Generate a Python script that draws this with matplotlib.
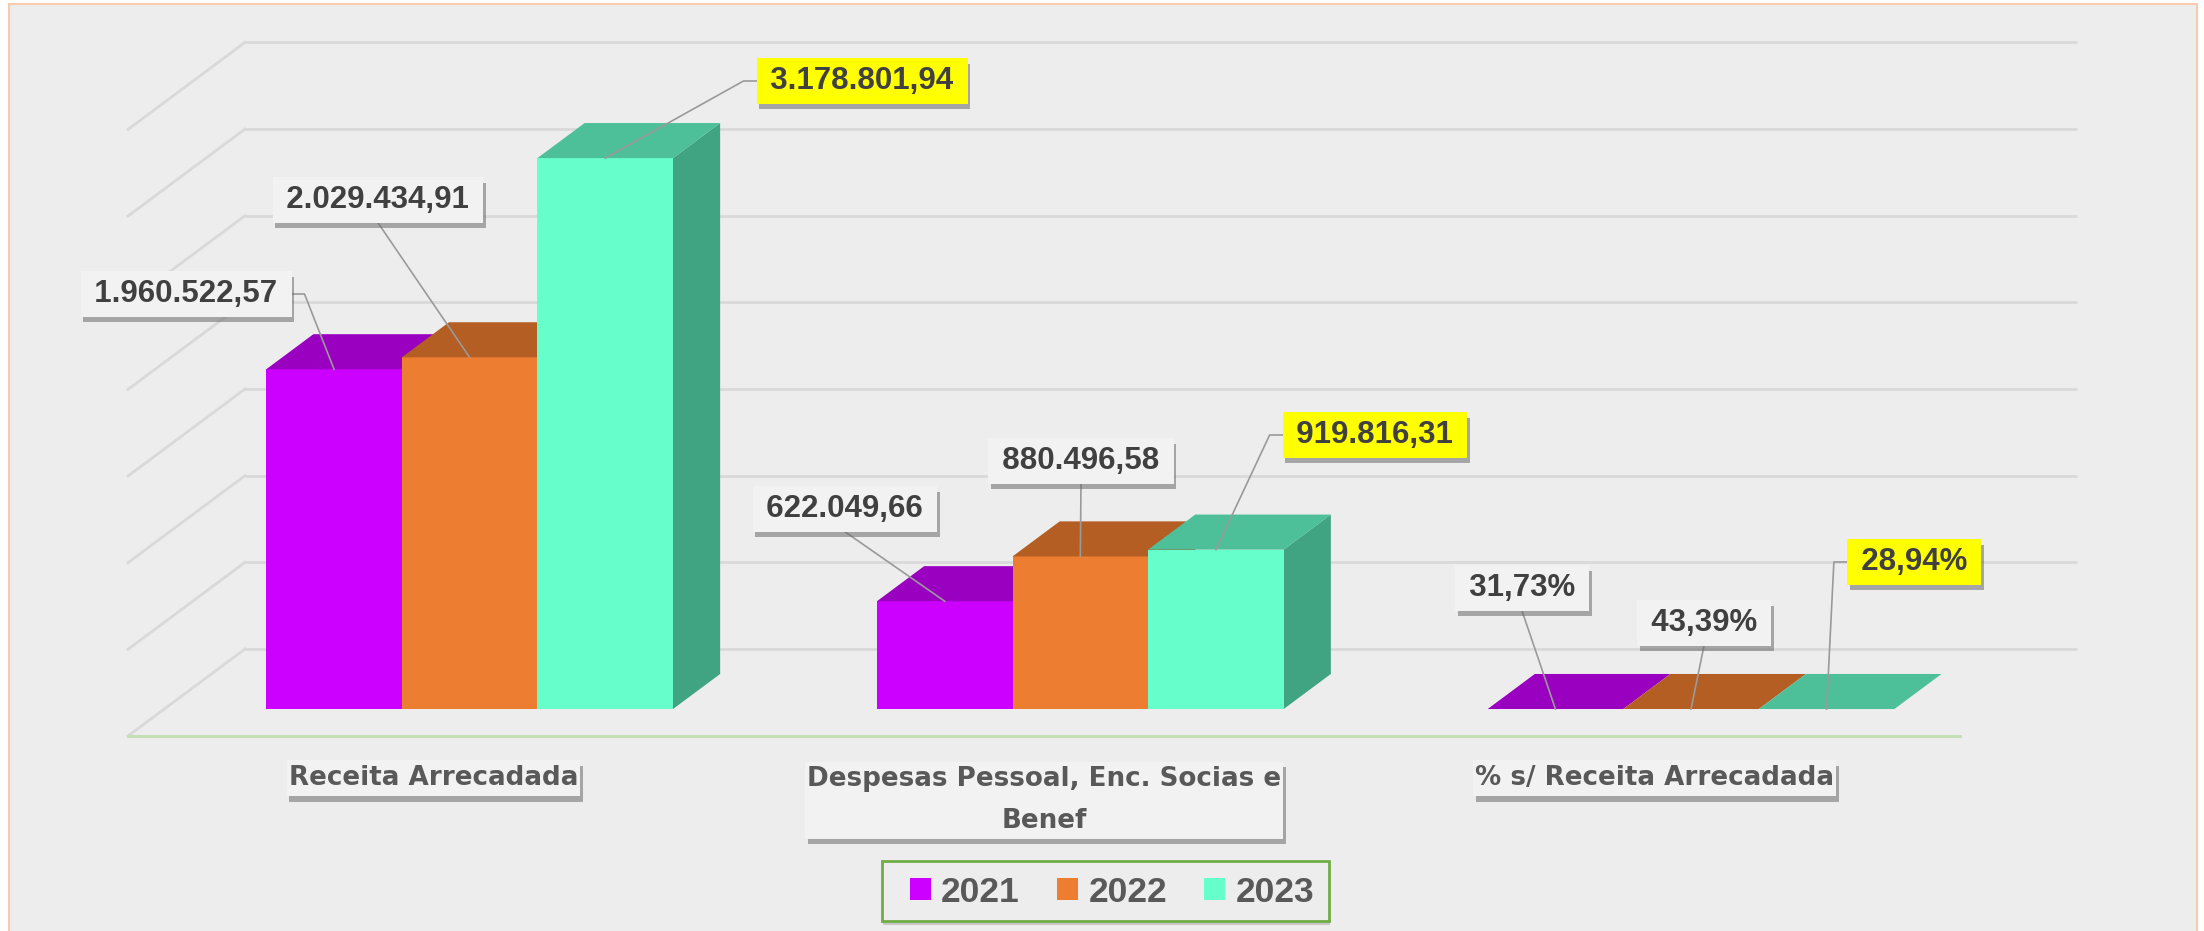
import numpy as np
import matplotlib
matplotlib.use("Agg")
import matplotlib.pyplot as plt
import matplotlib.patheffects as pe
from matplotlib.patches import Polygon, Rectangle
from matplotlib.lines import Line2D
from matplotlib.transforms import Affine2D, IdentityTransform, blended_transform_factory

# --- DATA ---------------------------------------------------------------------
categories = ["Receita Arrecadada",
              "Despesas Pessoal, Enc. Socias e\nBenef",
              "% s/ Receita Arrecadada"]
years = ["2021", "2022", "2023"]
v2021 = [1960522.57, 622049.66, 0.3173]
v2022 = [2029434.91, 880496.58, 0.4339]
v2023 = [3178801.94, 919816.31, 0.2894]
is_percent = [False, False, True]
grid_values = np.arange(0, 3500001, 500000)

# --- STYLE / LAYOUT -----------------------------------------------------------
front_colors = ["#CC00FF", "#ED7D31", "#66FFCC"]
top_colors = ["#9900BF", "#B45E23", "#4DC09A"]
side_colors = ["#8A00AD", "#A4531E", "#40A382"]
TEXT_DARK = "#404040"
TEXT_GRAY = "#595959"
NUM_FONT = ["Liberation Sans", "DejaVu Sans"]

W, H = 2204, 931
UPX = 5770.0          # value units per pixel
CATPX = 610.7         # pixels per category
DX = 117 / CATPX      # depth shift of floor (x, category units)
DY = 87 * UPX         # depth shift of floor (y, value units)
D_FRONT, D_BACK = 0.31, 0.713
GROUP_W = 0.666
BAR_W = GROUP_W / 3
X_LEFT = -0.5 - 128 / CATPX

# label centres in pixels (x right, y down), one row per category
label_xy = [[(186, 294), (378, 200), (862, 81)],
            [(845, 509), (1081, 461), (1375, 435)],
            [(1522, 588), (1704, 623), (1914, 562)]]
leader_side = [["right", "bottom", "left"],
               ["bottom", "bottom", "left"],
               ["bottom", "bottom", "left"]]
cat_label_y = [778, 800, 778]


def fmt(v, pct):
    if pct:
        return f"{v * 100:.2f}%".replace(".", ",")
    s = f"{v:,.2f}"
    return s.replace(",", "X").replace(".", ",").replace("X", ".")


fig = plt.figure(figsize=(W / 100, H / 100), dpi=100)
fig.patch.set_facecolor("white")
ax = fig.add_axes([0, 0, 1, 1])
ax.set_xlim(X_LEFT, X_LEFT + W / CATPX)
ax.set_ylim(-(H - 736) * UPX, 736 * UPX)
ax.axis("off")

PIX = Affine2D().scale(1 / 100, -1 / 100).translate(0, H / 100) + fig.dpi_scale_trans
shadow = [pe.SimplePatchShadow(offset=(2, -4), shadow_rgbFace="#6A6A6A", alpha=0.55), pe.Normal()]

# chart area
ax.add_patch(Rectangle((9, 4), 2188, 960, transform=PIX, fc="#EDEDED",
                       ec="#F8CBAD", lw=1.5, zorder=0))

# --- WALLS --------------------------------------------------------------------
ax.hlines(grid_values + DY, -0.5 + DX, 2.5 + DX, color="#D9D9D9", lw=2, zorder=1)
for g in grid_values:
    ax.plot([-0.5 + DX, -0.5], [g + DY, g], color="#D9D9D9", lw=2, zorder=1)
ax.plot([-0.5, 2.5], [0, 0], color="#C5E0B4", lw=2.2, zorder=1)

# --- BARS ---------------------------------------------------------------------
x = np.arange(len(categories))
series = [v2021, v2022, v2023]
ddx = (D_BACK - D_FRONT) * DX
ddy = (D_BACK - D_FRONT) * DY
base = D_FRONT * DY
handles = []
targets = {}
for i, vals in enumerate(series):
    xc = x + D_FRONT * DX + (i - 1) * BAR_W
    z = 3 + i * 0.3
    bars = ax.bar(xc, vals, width=BAR_W, bottom=base, color=front_colors[i],
                  label=years[i], zorder=z + 0.1, linewidth=0)
    handles.append(bars)
    for j, (xcj, v) in enumerate(zip(xc, vals)):
        xl, xr, top = xcj - BAR_W / 2, xcj + BAR_W / 2, base + v
        ax.add_patch(Polygon([(xr, base), (xr, top), (xr + ddx, top + ddy), (xr + ddx, base + ddy)],
                             closed=True, fc=side_colors[i], ec="none", zorder=z))
        ax.add_patch(Polygon([(xl, top), (xr, top), (xr + ddx, top + ddy), (xl + ddx, top + ddy)],
                             closed=True, fc=top_colors[i], ec="none", zorder=z + 0.2))
        targets[(j, i)] = (xcj, top)

# --- CATEGORY LABELS ----------------------------------------------------------
cat_tr = blended_transform_factory(ax.transData, PIX)
cat_texts = []
for j, cat in enumerate(categories):
    t = ax.text(x[j], cat_label_y[j], cat, transform=cat_tr, ha="center", va="center",
                fontsize=18.8, fontweight="bold", color=TEXT_GRAY, linespacing=1.75,
                zorder=6.5)
    cat_texts.append(t)

# --- VALUE LABELS -------------------------------------------------------------
texts = {}
for j in range(len(categories)):
    for i, vals in enumerate(series):
        fc = "#FFFF00" if years[i] == "2023" else "#F2F2F2"
        px, py = label_xy[j][i]
        t = ax.text(px, py, "\u2009" + fmt(vals[j], is_percent[j]) + "\u2009", transform=PIX,
                    ha="center", va="center", fontsize=22.5, fontweight="bold",
                    family=NUM_FONT, color=TEXT_DARK, zorder=7,
                    bbox=dict(boxstyle="square,pad=0.25", fc=fc, ec="none"))
        t.get_bbox_patch().set_path_effects(shadow)
        texts[(j, i)] = t

fig.canvas.draw()
renderer = fig.canvas.get_renderer()

# boxes behind the category labels, sized from the text
for t in cat_texts:
    bb = t.get_window_extent(renderer)
    box = Rectangle((bb.x0 - 2, bb.y0 - 5), bb.width + 4, bb.height + 10,
                    transform=IdentityTransform(), fc="#F2F2F2", ec="none", zorder=6)
    box.set_path_effects(shadow)
    ax.add_artist(box)

for (j, i), t in texts.items():
    bb = t.get_bbox_patch().get_window_extent(renderer)
    tx, ty = ax.transData.transform(targets[(j, i)])
    side = leader_side[j][i]
    ymid = (bb.y0 + bb.y1) / 2
    if side == "right":
        pts = [(bb.x1, ymid), (bb.x1 + 13, ymid), (tx, ty)]
    elif side == "left":
        pts = [(bb.x0, ymid), (bb.x0 - 13, ymid), (tx, ty)]
    else:
        pts = [((bb.x0 + bb.x1) / 2, bb.y0), (tx, ty)]
    xs, ys = zip(*pts)
    ax.add_artist(Line2D(xs, ys, transform=IdentityTransform(), color="#9A9A9A",
                         lw=1.2, zorder=5.5))

# --- LEGEND -------------------------------------------------------------------
leg_box = Rectangle((882, 861), 447, 60, transform=PIX, fc="#EDEDED",
                    ec="#70AD47", lw=2, zorder=4)
leg_box.set_path_effects([pe.SimplePatchShadow(offset=(1, -3), shadow_rgbFace="#8F8F8F", alpha=0.4),
                          pe.Normal()])
ax.add_patch(leg_box)
leg = ax.legend(handles=handles, labels=years, ncol=3, frameon=False, loc="center",
                bbox_to_anchor=(1112 / W, 1 - 892 / H), bbox_transform=fig.transFigure,
                prop={"weight": "bold", "size": 25.5, "family": NUM_FONT},
                labelcolor=TEXT_GRAY, handlelength=0.6, handleheight=0.6,
                handletextpad=0.28, columnspacing=1.05, borderpad=0.2)
leg.set_zorder(8)

fig.savefig("out.png", dpi=100, facecolor=fig.get_facecolor())
